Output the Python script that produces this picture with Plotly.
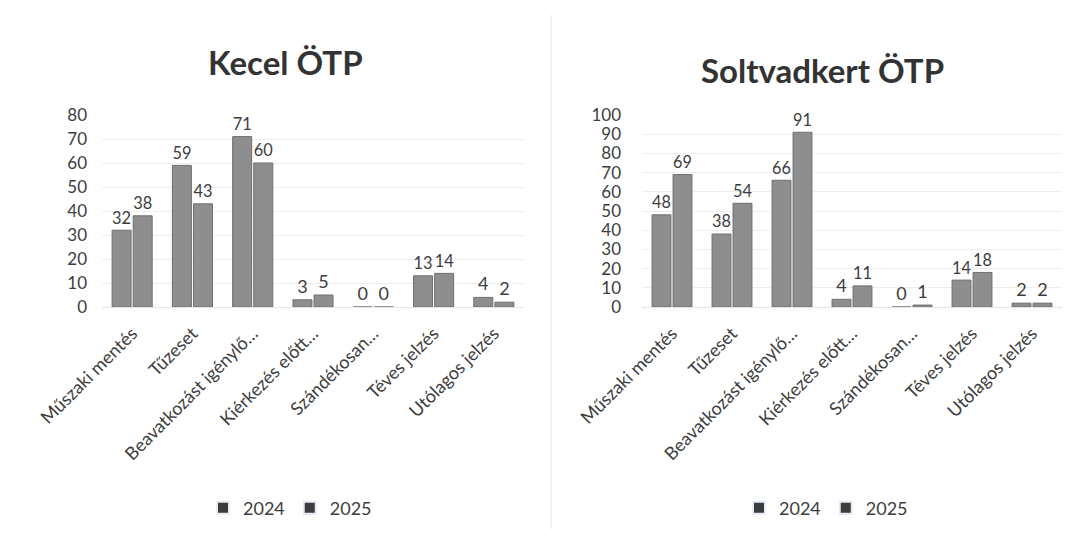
import plotly.graph_objects as go

categories = ["Műszaki mentés", "Tűzeset", "Beavatkozást igénylő…", "Kiérkezés előtt…",
              "Szándékosan…", "Téves jelzés", "Utólagos jelzés"]
kecel_2024 = [32, 59, 71, 3, 0, 13, 4]
kecel_2025 = [38, 43, 60, 5, 0, 14, 2]
solt_2024 = [48, 38, 66, 4, 0, 14, 2]
solt_2025 = [69, 54, 91, 11, 1, 18, 2]
titles = ["Kecel ÖTP", "Soltvadkert ÖTP"]
years = ["2024", "2025"]

OFF = 8  # page body margin
W, H = 1077 - 2 * OFF, 537 - 2 * OFF
FONT = "Lato, Open Sans, sans-serif"
TXT = "#3d3d3d"
BAR = "#8e8e8e"
LEG = "#3c3c3c"

fig = go.Figure()

def px(x):
    return (x - OFF) / W

def py(y):
    return (H - (y - OFF)) / H

panels = [
    (kecel_2024, kecel_2025, "x", "y", "legend"),
    (solt_2024, solt_2025, "x2", "y2", "legend2"),
]
for a, b, xa, ya, lg in panels:
    for vals, yr in ((a, years[0]), (b, years[1])):
        fig.add_trace(go.Bar(
            x=categories, y=vals, name=yr, xaxis=xa, yaxis=ya,
            marker=dict(color=BAR, line=dict(color="#6f6f6f", width=1)),
            text=[str(v) for v in vals], textposition="outside",
            textfont=dict(size=18, color=TXT, family=FONT),
            cliponaxis=False, showlegend=False, offsetgroup=yr,
        ))
    for yr in years:
        fig.add_trace(go.Bar(
            x=[categories[0]], y=[None], name=yr, xaxis=xa, yaxis=ya,
            marker=dict(color=LEG), legend=lg, showlegend=True, offsetgroup=yr,
        ))

common_x = dict(type="category", tickangle=-45, showgrid=False, showline=True,
                linecolor="#e6e6e6", ticks="", tickfont=dict(size=18, color=TXT, family=FONT),
                automargin=False, ticklabelstandoff=8)
common_y = dict(showgrid=True, gridcolor="#eeeeee", zeroline=False, showline=False,
                ticks="", tickfont=dict(size=17, color=TXT, family=FONT), automargin=False)

y_dom = [py(307), py(115)]
leg_common = dict(orientation="h", xanchor="center", y=py(508), yanchor="middle",
                  font=dict(size=18, color=TXT, family=FONT), bgcolor="rgba(0,0,0,0)",
                  itemwidth=30, traceorder="normal", itemsizing="constant")
fig.update_layout(
    width=W, height=H,
    margin=dict(l=0, r=0, t=0, b=0),
    paper_bgcolor="white", plot_bgcolor="white",
    barmode="group", bargap=0.3, bargroupgap=0.1,
    xaxis=dict(domain=[px(102), px(524)], anchor="y", **common_x),
    yaxis=dict(domain=y_dom, anchor="x", range=[0, 80], dtick=10,
               ticklabelstandoff=14, **common_y),
    xaxis2=dict(domain=[px(642), px(1062)], anchor="y2", **common_x),
    yaxis2=dict(domain=y_dom, anchor="x2", range=[0, 100], dtick=10,
                ticklabelstandoff=20, **common_y),
    legend=dict(x=px(290), **leg_common),
    legend2=dict(x=px(826), **leg_common),
    annotations=[
        dict(text="<b>" + titles[0] + "</b>", x=px(285), y=py(62), xref="paper", yref="paper",
             showarrow=False, font=dict(size=33, color="#333333", family=FONT),
             xanchor="center", yanchor="middle"),
        dict(text="<b>" + titles[1] + "</b>", x=px(822), y=py(70), xref="paper", yref="paper",
             showarrow=False, font=dict(size=33, color="#333333", family=FONT),
             xanchor="center", yanchor="middle"),
    ],
    shapes=[
        dict(type="line", xref="paper", yref="paper", x0=px(551), x1=px(551), y0=0, y1=py(15),
             line=dict(color="#e6e6e6", width=1)),
    ],
)

fig.write_html("out.html")
